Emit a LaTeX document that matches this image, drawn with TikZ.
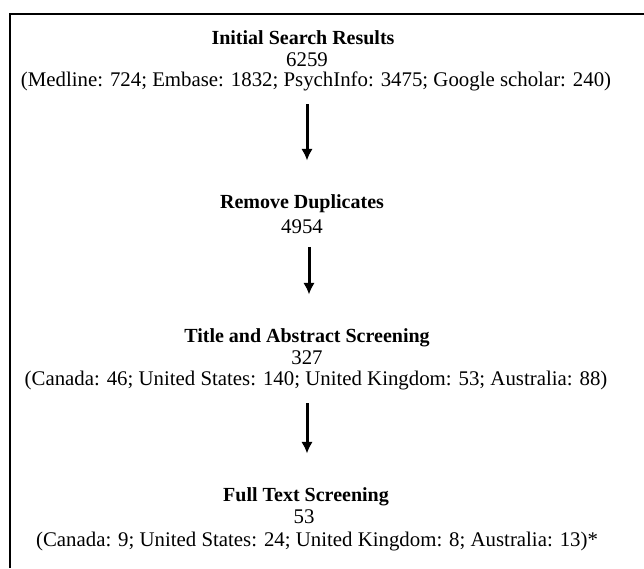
\documentclass[tikz,border=0pt]{standalone}
\usepackage{fontspec}
\setmainfont{Liberation Serif}
\usepackage{tikz}
\usetikzlibrary{
  arrows.meta,%
  positioning,%
  calc
}
\tikzset{>={Latex[length=7pt,width=7pt]}}
\tikzset{font=\fontsize{12.5}{14}\selectfont}
\tikzset{stagetitle/.style={anchor=base, inner sep=0pt, font=\fontsize{12}{14}\selectfont\bfseries},
  stagetext/.style={anchor=base, inner sep=0pt},
  flow/.style={->, line width=1.8pt, shorten <=8pt, shorten >=20pt}}

\begin{document}
\begin{tikzpicture}[x=0.6pt, y=-0.6pt]
  \useasboundingbox (0,0) rectangle (644,568);
  % open frame
  \draw[line width=1.2pt] (9.5,568) -- (9.5,14) -- (644,14);
  % search
  \node[stagetitle] (title1) at (303,44) {Initial Search Results};
  \node[stagetext] (count1) at (307,66) {6259};
  \node[stagetext] (list1) at (316,86) {(Medline: 724; Embase: 1832; PsychInfo: 3475; Google scholar: 240)};
  % duplicates
  \node[stagetitle] (title2) at (302,208) {Remove Duplicates};
  \node[stagetext] (count2) at (302,233) {4954};
  % screening
  \node[stagetitle] (title3) at (307,342) {Title and Abstract Screening};
  \node[stagetext] (count3) at (307,364) {327};
  \node[stagetext] (list3) at (316,385) {(Canada: 46; United States: 140; United Kingdom: 53; Australia: 88)};
  \node[stagetitle] (title4) at (306,501) {Full Text Screening};
  \node[stagetext] (count4) at (304,523) {53};
  \node[stagetext] (list4) at (317,546) {(Canada: 9; United States: 24; United Kingdom: 8; Australia: 13)*};
  % arrows
  \draw[flow] (list1.south -| count1) -- (title2.north -| count1);
  \draw[flow] ($(count2.south)+(7,0)$) -- (title3.north -| {$(count2.south)+(7,0)$});
  \draw[flow] (list3.south -| count3) -- (title4.north -| count3);
\end{tikzpicture}
\end{document}
